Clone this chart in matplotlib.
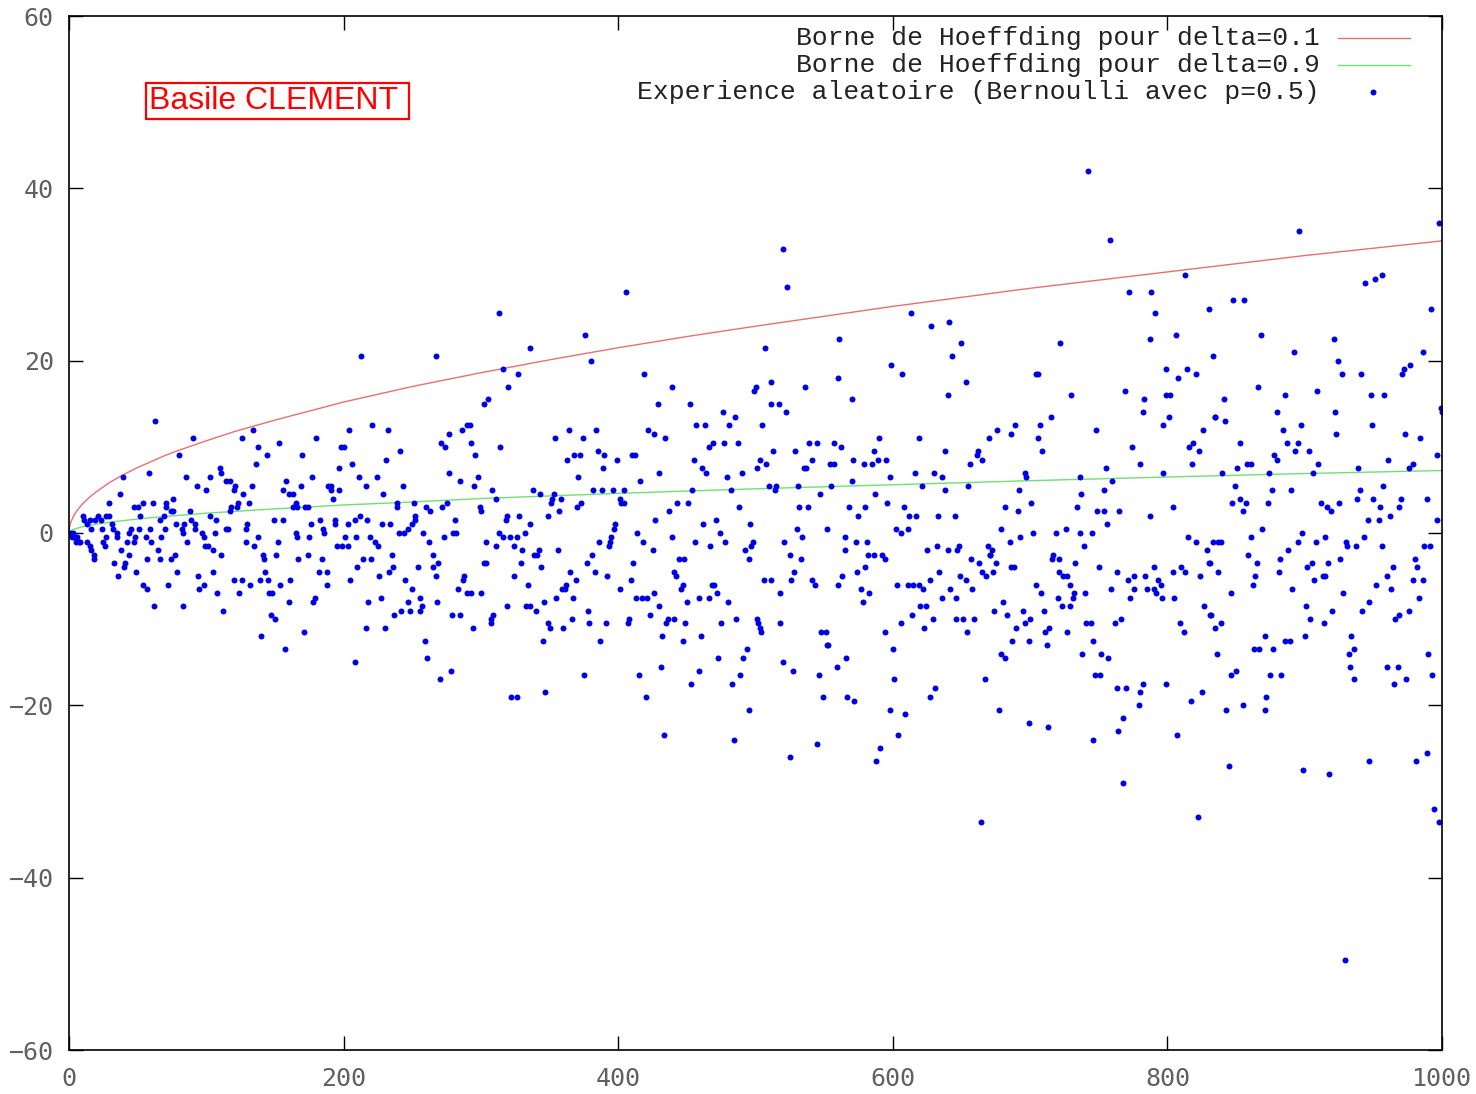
import matplotlib
matplotlib.use("Agg")
import matplotlib.pyplot as plt

# Bornes de Hoeffding (valeurs relevees le long des courbes)
n_borne = [0, 0.5, 1, 2, 3, 5, 7, 10, 15, 20, 30, 40, 50, 60, 70, 80, 100, 120, 150, 200, 250,
           300, 350, 400, 450, 500, 600, 700, 800, 900, 1000]
borne_delta_01 = [0, 0.76, 1.07, 1.5, 1.86, 2.4, 2.84, 3.4, 4.16, 4.8, 5.9, 6.8, 7.6, 8.3, 9.0, 9.6, 10.7, 11.75, 13.1, 15.2, 17.0,
                  18.6, 20.1, 21.5, 22.8, 24.0, 26.3, 28.4, 30.3, 32.2, 33.9]
borne_delta_09 = [0, 0.16, 0.23, 0.32, 0.4, 0.51, 0.6, 0.73, 0.89, 1.03, 1.26, 1.45, 1.62, 1.78, 1.92, 2.05, 2.3, 2.5, 2.8, 3.25, 3.6,
                  4.0, 4.3, 4.6, 4.87, 5.13, 5.6, 6.07, 6.5, 6.9, 7.25]

# Experiences : (n, S_n - n/2)
essais_0_170 = [
    (63, 13), (90, 11), (80, 9), (58, 7), (39, 6.5), (85, 6.5), (37, 4.5), (29, 3.5), (126, 11), (134, 12),
    (153, 10.5), (138, 10), (144, 9), (136, 8), (110, 7.5), (111, 7), (103, 6.5), (114, 6), (117, 6), (121, 5.5),
    (120, 5), (133, 5.5), (93, 5.5), (100, 5), (127, 4.5), (131, 3.5), (123, 3.5), (122, 3), (118, 3), (117, 2.5),
    (158, 6), (156, 5), (160, 4.5), (163, 4.5), (163, 3), (166, 3), (76, 4), (71, 3.5), (71, 3), (74, 2.5),
    (76, 2.5), (69, 2), (66, 1.5), (88, 2.5), (89, 1.5), (92, 1), (92, 0.5), (84, 1), (82, 0.5), (83, 0),
    (78, 1), (86, -1), (103, 2), (107, 1.5), (106, 0), (97, 0), (98, -0.5), (99, -1.5), (101, -1.5), (105, -2),
    (111, -2.5), (114, 0.5), (116, 0.5), (130, 1), (129, 0.5), (129, -1), (138, -0.5), (135, -1.5), (149, 1.5), (156, 1.5),
    (152, -1), (151, -2.5), (141, -2.5), (142, -3), (165, 0), (166, -0.5), (167, -3), (143, -4.5), (139, -5.5), (145, -5.5),
    (154, -6), (161, -5.5), (146, -7), (148, -7), (160, -8), (147, -9.5), (150, -10), (140, -12), (157, -13.5), (120, -5.5),
    (126, -5.5), (132, -6), (124, -7), (108, -7), (112, -9), (105, -4.5), (94, -5), (98, -6), (95, -6.5), (83, -8.5),
    (79, -4.5), (72, -6), (62, -8.5), (54, -6), (57, -6.5), (49, -4.5), (36, -5), (41, -3.5), (40, -4), (33, -3.5),
    (38, -2), (44, -2.5), (57, -3), (65, -2), (66, -3), (74, -3), (77, -2.5), (67, -0.5), (60, -1), (56, -0.5),
    (47, -1), (48, -0.5), (42, -1), (44, 0), (51, 0.5), (45, 0.5), (59, 0.5), (70, 0.5), (52, 2), (47, 3),
    (50, 3), (54, 3.5), (61, 3.5), (31, 1), (32, 0.5), (35, 0), (35, -0.5), (27, -0.5), (25, -1), (26, -1.5),
    (24, 0.5), (21, 2), (23, 1.5), (27, 2), (29, 2), (19, 1.5), (10, 2), (11, 1.5), (15, 1.5), (16, 0.5),
    (13, 1), (1, 0), (3, 0), (4, -0.5), (6, -0.5), (7, -1), (8, -1), (2, -0.5), (5, -1), (13, -1),
    (15, -1.5), (16, -2), (18, -2.5), (18, -3),
]
essais_170_335 = [
    (313, 25.5), (213, 20.5), (267, 20.5), (316, 19), (327, 18.5), (320, 17), (302, 15), (305, 15.5), (336, 21.5), (204, 12),
    (221, 12.5), (232, 12), (180, 11), (198, 10), (200, 10), (170, 9), (206, 8), (241, 9.5), (231, 8.5), (197, 7.5),
    (177, 6.5), (211, 6.5), (224, 6.5), (169, 5.5), (189, 5.5), (191, 5.5), (191, 5), (197, 5), (216, 5.5), (243, 5.5),
    (192, 4), (229, 4.5), (165, 3.5), (172, 3), (174, 3), (271, 10.5), (274, 10), (277, 11.5), (286, 12), (290, 12.5),
    (292, 12.5), (293, 10.5), (296, 9), (314, 10), (277, 7), (285, 6), (298, 6.5), (295, 5.5), (308, 5), (311, 4),
    (251, 3.5), (239, 3.5), (239, 3), (260, 3), (263, 2.5), (272, 3), (275, 3.5), (299, 3), (300, 2.5), (318, 1.5),
    (319, 2), (328, 2), (336, 1), (281, 1.5), (252, 2), (252, 1.5), (250, 1), (247, 0.5), (244, 0), (240, 0),
    (212, 2), (217, 1.5), (208, 1.5), (203, 1), (183, 1.5), (185, 0.5), (186, 0), (176, 1), (194, 1.5), (194, 1),
    (228, 1), (234, 1), (175, -0.5), (201, -0.5), (209, -0.5), (219, -0.5), (223, -1), (225, -1.5), (195, -1.5), (199, -1.5),
    (203, -1.5), (258, 0), (262, -1), (273, -0.5), (280, 0), (282, 0), (304, -1), (311, -1.5), (313, 0), (316, -0.5),
    (321, -0.5), (326, -0.5), (324, -1.5), (330, -2), (332, 0), (174, -2.5), (184, -3), (214, -3), (220, -3), (235, -2.5),
    (210, -4), (236, -4), (233, -4.5), (226, -5), (254, -4), (265, -4), (269, -3.5), (265, -2.5), (267, -5), (182, -4.5),
    (188, -4.5), (188, -6), (205, -5.5), (245, -5.5), (250, -6.5), (302, -3.5), (304, -3.5), (329, -3.5), (324, -5), (334, -6),
    (288, -5), (287, -5.5), (283, -6.5), (290, -7), (293, -7), (300, -7), (178, -8), (179, -7.5), (218, -8), (227, -7.5),
    (237, -9.5), (242, -9), (247, -8), (248, -9), (256, -7.5), (257, -8.5), (256, -9), (268, -8), (279, -9.5), (285, -9.5),
    (319, -8.5), (333, -8.5), (307, -10), (309, -9.5), (307, -10.5), (294, -11), (216, -11), (230, -11), (171, -11.5), (259, -12.5),
    (261, -14.5), (208, -15), (270, -17), (278, -16), (322, -19), (326, -19),
]
essais_335_500 = [
    (406, 28), (376, 23), (380, 20), (419, 18.5), (439, 17), (429, 15), (452, 15), (499, 16.5), (500, 17), (476, 14),
    (485, 13.5), (457, 12.5), (463, 12.5), (481, 12.5), (422, 12), (426, 11.5), (434, 11), (364, 12), (384, 12), (354, 11),
    (374, 11), (466, 10), (469, 10.5), (477, 10.5), (487, 10.5), (385, 9.5), (390, 9), (368, 9), (372, 9), (363, 8.5),
    (399, 8.5), (410, 9), (412, 9), (455, 8.5), (461, 7.5), (464, 7), (389, 7.5), (371, 6.5), (430, 7), (479, 6.5),
    (490, 7), (501, 7.5), (503, 8.5), (416, 6), (338, 5), (343, 4.5), (382, 5), (388, 5), (396, 5), (404, 5),
    (454, 5), (482, 5), (353, 4.5), (352, 4), (351, 3.5), (358, 4), (357, 2.5), (373, 3.5), (370, 3), (401, 4),
    (402, 3.5), (404, 3.5), (443, 3.5), (451, 3.5), (437, 2.5), (349, 2), (488, 3), (341, -2.5), (339, -2.5), (342, -2),
    (356, -2), (398, 1), (397, 0.5), (395, -0.5), (394, -1), (393, -1.5), (386, -1), (381, -2.5), (377, -3.5), (383, -4.5),
    (392, -5), (414, 0), (418, -1), (425, -2), (427, 1.5), (439, -0.5), (462, 1), (471, 1.5), (474, 0), (478, -1),
    (467, -1.5), (456, -1), (496, 1), (498, -1), (497, -1.5), (492, -2), (495, -3), (444, -3), (448, -3), (441, -4.5),
    (442, -5), (447, -6), (446, -6.5), (411, -3.5), (409, -5.5), (401, -6.5), (344, -4), (365, -4.5), (369, -5.5), (362, -6),
    (361, -6.5), (359, -6.5), (355, -7.5), (367, -7.5), (336, -8.5), (340, -9), (346, -8), (349, -10.5), (350, -11), (360, -11),
    (366, -10), (378, -9), (379, -10.5), (391, -10.5), (387, -12.5), (345, -12.5), (413, -7.5), (417, -7.5), (421, -7.5), (426, -7),
    (430, -8.5), (423, -9.5), (408, -10), (407, -10.5), (435, -10.5), (436, -10), (441, -10), (449, -10.5), (432, -12), (447, -12.5),
    (460, -12), (450, -8), (459, -7.5), (466, -7.5), (468, -6), (470, -6), (472, -7), (480, -8), (475, -10.5), (486, -10),
    (501, -10), (503, -11), (375, -16.5), (415, -16.5), (420, -19), (431, -15.5), (453, -17.5), (459, -16), (473, -14.5), (483, -17.5),
    (489, -16.5), (491, -14.5), (494, -13.5), (495, -20.5), (347, -18.5), (433, -23.5), (484, -24),
]
essais_500_670 = [
    (520, 33), (523, 28.5), (613, 25.5), (628, 24), (641, 24.5), (650, 22), (643, 20.5), (561, 22.5), (507, 21.5), (599, 19.5),
    (607, 18.5), (560, 18), (536, 17), (511, 17.5), (570, 15.5), (511, 15), (517, 15), (522, 14), (505, 12.5), (640, 16),
    (653, 17.5), (590, 11), (619, 11), (670, 11), (513, 9.5), (529, 9.5), (508, 8), (539, 10.5), (545, 10.5), (557, 10.5),
    (562, 10), (541, 8.5), (535, 7.5), (537, 7.5), (554, 8), (557, 8), (571, 8.5), (579, 8), (585, 8), (586, 9.5),
    (589, 8.5), (595, 8.5), (598, 6.5), (616, 7), (630, 7), (636, 6.5), (638, 9.5), (656, 8), (661, 9), (662, 9.5),
    (665, 8.5), (570, 6), (510, 5.5), (515, 5.5), (514, 5), (531, 5.5), (555, 5.5), (547, 4.5), (621, 5.5), (638, 5),
    (655, 5.5), (587, 4.5), (596, 3.5), (532, 3), (538, 3), (568, 3), (575, 2), (580, 3), (608, 3), (612, 2),
    (617, 2), (633, 2), (645, 2), (530, 0.5), (552, 0.5), (534, -0.5), (521, -1), (525, -2.5), (533, -3), (528, -4.5),
    (526, -5.5), (506, -5.5), (511, -5.5), (518, -7), (541, -5.5), (543, -6), (560, -6), (563, -5), (565, -2), (565, -0.5),
    (573, -1), (581, -1), (582, -2.5), (586, -2.5), (592, -2.5), (594, -3), (574, -4.5), (580, -4), (577, -6.5), (583, -7),
    (578, -8), (602, 0.5), (606, 0), (611, 0.5), (603, -6), (611, -6), (615, -6), (619, -6), (622, -6.5), (627, -5.5),
    (634, -4.5), (625, -2), (632, -1.5), (640, -2), (647, -2), (648, -1.5), (657, -3), (663, -3.5), (665, -4.5), (668, -5),
    (669, -1.5), (671, -2.5), (649, -5), (653, -5.5), (642, -6.5), (636, -7.5), (646, -7.5), (658, -6.5), (620, -8.5), (624, -8.5),
    (614, -9.5), (629, -10), (623, -11), (606, -10.5), (646, -10), (651, -10), (659, -10), (654, -11.5), (502, -10.5), (518, -10.5),
    (504, -11.5), (548, -11.5), (551, -11.5), (552, -13), (553, -13), (594, -11.5), (600, -13.5), (520, -15), (527, -16), (546, -16.5),
    (559, -15.5), (566, -14.5), (549, -19), (567, -19), (572, -19.5), (601, -17), (598, -20.5), (609, -21), (604, -23.5), (627, -19),
    (631, -18), (667, -17), (545, -24.5), (525, -26), (588, -26.5), (591, -25), (664, -33.5),
]
essais_670_835 = [
    (742, 42), (758, 34), (813, 30), (772, 28), (788, 28), (791, 25.5), (830, 26), (722, 22), (787, 22.5), (806, 23),
    (833, 20.5), (704, 18.5), (706, 18.5), (799, 19), (808, 18), (814, 19), (821, 18.5), (730, 16), (769, 16.5), (783, 15.5),
    (782, 14), (799, 16), (802, 16), (801, 13.5), (797, 12.5), (835, 13.5), (715, 13.5), (707, 12.5), (706, 11), (709, 9.5),
    (689, 12.5), (686, 11.5), (676, 12), (748, 12), (774, 10), (780, 8), (816, 10), (819, 10.5), (823, 9.5), (818, 8),
    (826, 12), (797, 7), (755, 7.5), (760, 6), (754, 5), (736, 6.5), (737, 4.5), (696, 7), (697, 6.5), (692, 5),
    (701, 3.5), (682, 3), (691, 2.5), (734, 3), (749, 2.5), (754, 2.5), (765, 2.5), (756, 1), (787, 2), (804, 3),
    (679, 0.5), (672, -2), (671, -2.5), (675, -3.5), (685, -1), (693, -0.5), (702, 0), (673, -4.5), (686, -4), (688, -4),
    (719, 0), (726, 0.5), (736, 0), (745, 0), (739, -1.5), (733, -3.5), (717, -2.5), (716, -3), (721, -3), (721, -4.5),
    (724, -5), (727, -5), (729, -6), (750, -4), (763, -4.5), (771, -5.5), (776, -5), (784, -5), (790, -4), (793, -5.5),
    (795, -6), (804, -4.5), (810, -4), (813, -4.5), (824, -5), (830, -3.5), (837, -4.5), (837, -1), (833, -1), (829, -2),
    (821, -1), (815, -0.5), (704, -6), (708, -7), (720, -7.5), (723, -8.5), (729, -8.5), (731, -7.5), (732, -7), (740, -7),
    (759, -6.5), (773, -7.5), (776, -6.5), (785, -6.5), (790, -6.5), (792, -7), (796, -7.5), (805, -7.5), (674, -9), (680, -8),
    (683, -9.5), (695, -9), (696, -10.5), (700, -10), (690, -11), (687, -12.5), (699, -12.5), (710, -9), (711, -11.5), (714, -11),
    (712, -13), (727, -11.5), (741, -10.5), (744, -10.5), (746, -12.5), (738, -14), (752, -14), (757, -14.5), (747, -16.5), (751, -16.5),
    (762, -10.5), (766, -10), (809, -10.5), (812, -11.5), (827, -8.5), (831, -9.5), (835, -11), (836, -14), (679, -14), (682, -14.5),
    (763, -18), (770, -18), (780, -18.5), (782, -17.5), (779, -20), (768, -21.5), (764, -23), (799, -17.5), (825, -18.5), (817, -19.5),
    (807, -23.5), (677, -20.5), (699, -22), (713, -22.5), (746, -24), (768, -29), (822, -33),
]
essais_835_1000 = [
    (998, 36), (896, 35), (944, 29), (951, 29.5), (956, 30), (992, 26), (848, 27), (856, 27), (868, 23), (921, 22.5),
    (892, 21), (986, 21), (924, 20), (927, 18.5), (941, 18.5), (971, 18.5), (972, 19), (977, 19.5), (866, 17), (886, 16),
    (909, 16.5), (948, 16), (958, 16), (841, 15.5), (835, 13.5), (842, 13), (880, 14), (922, 14), (999, 14.5), (1000, 14),
    (897, 12.5), (884, 12), (923, 11.5), (949, 12.5), (973, 11.5), (984, 11), (853, 10.5), (887, 10.5), (895, 10.5), (893, 9.5),
    (903, 9.5), (878, 9), (880, 8.5), (858, 8), (861, 8), (851, 7.5), (840, 7), (874, 7), (906, 7), (910, 8),
    (939, 7.5), (961, 8.5), (976, 7.5), (979, 8), (996, 9), (849, 5.5), (847, 3.5), (853, 4), (857, 3.5), (855, 2.5),
    (876, 5), (873, 3.5), (890, 5), (869, 0.5), (861, -0.5), (859, -2.5), (865, -3.5), (864, -5), (862, -6), (839, -1),
    (846, -7), (831, -3.5), (832, -9.5), (839, -10.5), (888, -2), (882, -3), (881, -4.5), (891, -6.5), (895, -1), (898, 0),
    (902, -4), (905, -3.5), (907, -5.5), (913, -5), (915, -5), (917, -3.5), (908, -1), (915, -0.5), (912, 3.5), (916, 3),
    (919, 2.5), (925, 3.5), (901, -8.5), (904, -10), (914, -10.5), (920, -9), (928, -7), (926, -3), (930, -1), (931, -1.5),
    (937, -1.5), (938, 4), (940, 5), (943, -0.5), (946, 1.5), (950, 4), (954, 1.5), (955, 3), (957, 5.5), (956, -1.5),
    (962, 2), (969, 3), (970, 4), (989, 4), (942, -9), (947, -8), (952, -6), (960, -5), (964, -4), (963, -6.5),
    (966, -10), (969, -9.5), (976, -9), (980, -3), (982, -4), (979, -5.5), (986, -5.5), (983, -7.5), (987, -1.5), (991, -1.5),
    (996, 1.5), (934, -12), (936, -13.5), (932, -14), (933, -15.5), (936, -17), (960, -15.5), (968, -15.5), (965, -17.5), (974, -17),
    (990, -14), (993, -16.5), (900, -12), (889, -12.5), (886, -12.5), (877, -13.5), (871, -12), (867, -13.5), (863, -13.5), (875, -16.5),
    (883, -16.5), (872, -19), (871, -20.5), (855, -20), (843, -20.5), (850, -16), (846, -16.5), (845, -27), (899, -27.5), (918, -28),
    (947, -26.5), (981, -26.5), (989, -25.5), (994, -32), (998, -33.5), (929, -49.5),
]

x_ticks = [0, 200, 400, 600, 800, 1000]
y_ticks = [-60, -40, -20, 0, 20, 40, 60]

essais = (essais_0_170 + essais_170_335 + essais_335_500
          + essais_500_670 + essais_670_835 + essais_835_1000)
n_exp = [p[0] for p in essais]
ecart = [p[1] for p in essais]

rouge = '#e87070'
vert = '#70e070'
bleu = '#0000e6'

fig = plt.figure(figsize=(14.76, 10.94), dpi=100)
ax = fig.add_axes([69 / 1476, 1 - 1050 / 1094, 1373 / 1476, 1034 / 1094])

ax.plot(n_borne, borne_delta_01, color=rouge, lw=1.0)
ax.plot(n_borne, borne_delta_09, color=vert, lw=1.0)
ax.plot(n_exp, ecart, 'o', color=bleu, ms=4.3, mec='none')

ax.set_xlim(0, 1000)
ax.set_ylim(-60, 60)
ax.set_xticks(x_ticks)
ax.set_yticks(y_ticks)
ax.tick_params(direction='in', length=10, width=1, top=True, right=True,
               labelsize=18, labelcolor='#606060')
ax.tick_params(axis='x', pad=12)
ax.tick_params(axis='y', pad=11)
for lab in ax.get_xticklabels() + ax.get_yticklabels():
    lab.set_family('DejaVu Sans Mono')
for sp in ax.spines.values():
    sp.set_linewidth(1.2)

# legende a la maniere de gnuplot : texte aligne a droite, echantillon a droite
legende = [
    ('Borne de Hoeffding pour delta=0.1', rouge, 0.979),
    ('Borne de Hoeffding pour delta=0.9', vert, 0.953),
    ('Experience aleatoire (Bernoulli avec p=0.5)', None, 0.9265),
]
for texte, couleur, yy in legende:
    ax.text(0.911, yy, texte, transform=ax.transAxes, ha='right', va='center',
            family='Liberation Mono', fontsize=19, color='#222222')
    if couleur:
        ax.plot([0.924, 0.977], [yy, yy], transform=ax.transAxes, color=couleur, lw=1.0)
    else:
        ax.plot([0.950], [yy], 'o', transform=ax.transAxes, color=bleu, ms=4.3, mec='none')

fig.text(149 / 1476, 1 - 101 / 1094, 'Basile CLEMENT ', family='Liberation Sans',
         fontsize=23, color='red', ha='left', va='center',
         bbox=dict(boxstyle='square,pad=0.08', fc='white', ec='red', lw=1.6))

fig.savefig('out.png', dpi=100)
